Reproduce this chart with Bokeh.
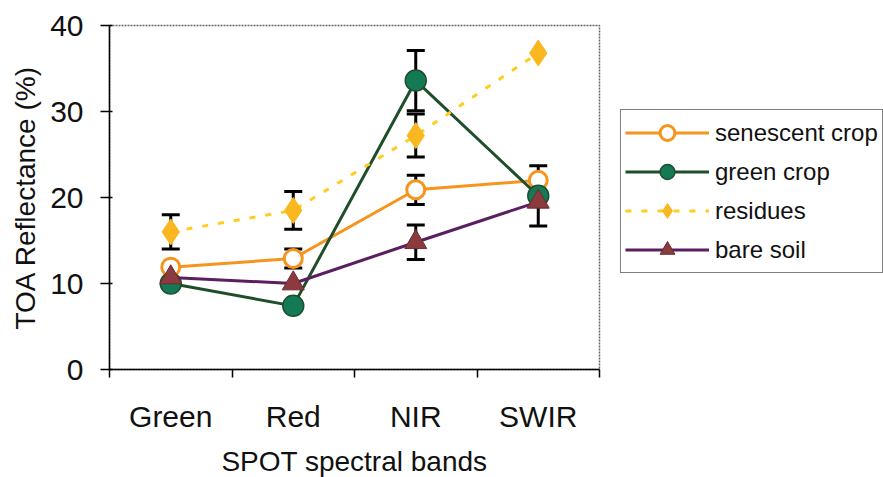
from bokeh.plotting import figure
from bokeh.models import (ColumnDataSource, Whisker, FixedTicker, Legend, LegendItem, Range1d)
from bokeh.embed import file_html
from bokeh.resources import INLINE

# ---- data ----
bands = ["Green", "Red", "NIR", "SWIR"]
senescent = [11.9, 12.9, 20.9, 22.0]
senescent_err = [0.0, 1.1, 1.7, 1.7]
green_crop = [10.0, 7.4, 33.6, 20.2]
green_crop_err = [0.0, 0.0, 3.5, 0.0]
residues = [16.0, 18.5, 27.2, 36.8]
residues_err = [2.0, 2.2, 2.5, 0.0]
bare_soil = [10.7, 10.0, 14.8, 19.5]
bare_soil_err = [0.0, 0.0, 2.0, 2.8]
y_ticks = [0, 10, 20, 30, 40]

FONT = "Liberation Sans"
xpos = [i + 0.5 for i in range(len(bands))]

p = figure(frame_width=490, frame_height=344, output_backend="svg", toolbar_location=None,
           x_range=Range1d(0, len(bands)), y_range=Range1d(0, 40),
           min_border_left=109, min_border_right=10, min_border_top=25, min_border_bottom=108)
p.background_fill_color = "white"
p.border_fill_color = "white"
p.xgrid.visible = False
p.ygrid.visible = False
p.outline_line_color = "#666666"
p.outline_line_dash = "2 1"
p.outline_line_width = 1.5

# axes
p.xaxis.ticker = FixedTicker(ticks=xpos, minor_ticks=list(range(len(bands) + 1)))
p.xaxis.major_label_overrides = {x: b for x, b in zip(xpos, bands)}
p.xaxis.major_tick_line_color = None
p.xaxis.major_tick_out = 8
p.xaxis.major_tick_in = 0
p.xaxis.minor_tick_line_color = "black"
p.xaxis.minor_tick_line_width = 1.5
p.xaxis.minor_tick_out = 8
p.xaxis.minor_tick_in = 0
p.xaxis.major_label_standoff = 22
p.xaxis.axis_label = "SPOT spectral bands"
p.xaxis.axis_label_standoff = 10

p.yaxis.ticker = FixedTicker(ticks=y_ticks, minor_ticks=[])
p.yaxis.major_tick_out = 9
p.yaxis.major_tick_in = 3
p.yaxis.major_tick_line_width = 1.5
p.yaxis.major_label_standoff = 17
p.yaxis.axis_label = "TOA Reflectance (%)"
p.yaxis.axis_label_standoff = 6

for ax in (p.xaxis[0], p.yaxis[0]):
    ax.axis_line_color = "black"
    ax.axis_line_width = 1.5
    ax.major_label_text_font = FONT
    ax.major_label_text_font_size = "30px"
    ax.major_label_text_color = "#111111"
    ax.axis_label_text_font = FONT
    ax.axis_label_text_font_size = "28px"
    ax.axis_label_text_font_style = "normal"
    ax.axis_label_text_color = "#111111"

series = [
    ("senescent crop", senescent, senescent_err, dict(line_color="#F7941D", line_dash="solid"),
     dict(marker="circle", size=18, fill_color="white", line_color="#F7941D", line_width=3)),
    ("green crop", green_crop, green_crop_err, dict(line_color="#1F4F2A", line_dash="solid"),
     dict(marker="circle", size=21, fill_color="#137A55", line_color="#1F4F2A", line_width=1.5)),
    ("residues", residues, residues_err, dict(line_color="#FFCC22", line_dash="6 10"),
     dict(marker="diamond", size=26, fill_color="#F9B820", line_color="#F9B820", line_width=1)),
    ("bare soil", bare_soil, bare_soil_err, dict(line_color="#5A1F5E", line_dash="solid"),
     dict(marker="triangle", size=22, fill_color="#8B3A3E", line_color="#6E2A30", line_width=1)),
]

# error bars
for name, vals, errs, ls, ms in series:
    xs = [x for x, e in zip(xpos, errs) if e > 0]
    lo = [v - e for v, e in zip(vals, errs) if e > 0]
    hi = [v + e for v, e in zip(vals, errs) if e > 0]
    src = ColumnDataSource(dict(x=xs, lower=lo, upper=hi))
    w = Whisker(source=src, base="x", lower="lower", upper="upper", dimension="height",
                line_color="black", line_width=3)
    w.upper_head.size = 18
    w.lower_head.size = 18
    w.upper_head.line_width = 3
    w.lower_head.line_width = 3
    w.upper_head.line_color = "black"
    w.lower_head.line_color = "black"
    p.add_layout(w)

items = []
for name, vals, errs, ls, ms in series:
    src = ColumnDataSource(dict(x=xpos, y=vals))
    lr = p.line("x", "y", source=src, line_width=3, **ls)
    mr = p.scatter("x", "y", source=src, **ms)
    items.append(LegendItem(label=name, renderers=[lr, mr]))

legend = Legend(items=items, location=(21, 96), orientation="vertical")
legend.label_text_font = FONT
legend.label_text_font_size = "24px"
legend.label_text_color = "#111111"
legend.glyph_width = 84
legend.glyph_height = 37
legend.label_height = 37
legend.spacing = 2
legend.padding = 4
legend.margin = 0
legend.label_standoff = 6
legend.border_line_color = "black"
legend.border_line_width = 1.5
legend.background_fill_color = "white"
legend.background_fill_alpha = 1
p.add_layout(legend, "right")

open("out.html", "w").write(file_html(p, INLINE))
